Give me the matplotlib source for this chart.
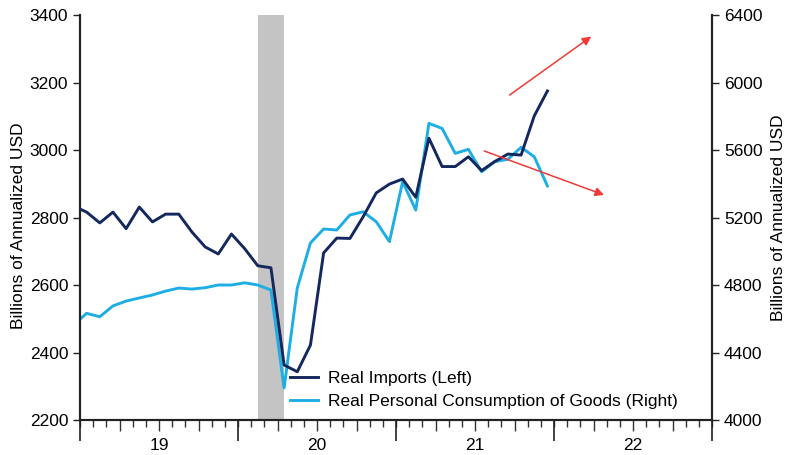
import numpy as np
import pandas as pd
import matplotlib
matplotlib.use("Agg")
import matplotlib.pyplot as plt

plt.rcParams['font.family'] = ['Liberation Sans', 'DejaVu Sans']
plt.rcParams['font.size'] = 12.5

# monthly data, Dec 2018 .. Dec 2021
months = pd.period_range('2018-12', '2021-12', freq='M')
imports = [2834, 2816, 2784, 2816, 2767, 2831, 2787, 2810, 2810, 2757, 2713, 2692, 2751,
           2708, 2657, 2651, 2363, 2343, 2422, 2695, 2739, 2738, 2802, 2873, 2899,
           2914, 2860, 3035, 2951, 2951, 2980, 2939, 2966, 2988, 2985, 3101, 3175]
consumption = [4563, 4632, 4612, 4676, 4705, 4723, 4741, 4764, 4782, 4776, 4784, 4800, 4800,
               4813, 4800, 4770, 4190, 4782, 5049, 5132, 5126, 5215, 5234, 5175, 5057,
               5412, 5244, 5758, 5728, 5580, 5604, 5471, 5531, 5545, 5616, 5560, 5387]
recession = ['2020-02', '2020-04']
year_labels = ['19', '20', '21', '22']

# red arrows (month index, left-axis value)
arrow_up = [(32.45, 3158), (39.0, 3341)]
arrow_down = [(30.5, 3000), (40.0, 2864)]

navy = '#14285e'
cyan = '#1eaee4'

def month_pos(p):
    p = pd.Period(p, freq='M')
    return (p.year - 2019) * 12 + p.month - 1 + 0.5

x = np.array([month_pos(m) for m in months])

rect = [0.1017, 0.0769, 0.803, 0.8901]
fig = plt.figure(figsize=(7.87, 4.55), dpi=100)

# helper axes just for the month / quarter ticks under the x axis
axt = fig.add_axes(rect, frameon=False)
axt.set_xlim(0, 48)
axt.set_yticks([])
axt.set_xticks([q for q in range(0, 49, 3) if q % 12 != 0])
axt.set_xticklabels([])
axt.set_xticks(np.arange(0, 49, 1), minor=True)
axt.tick_params(axis='x', which='major', length=8, width=1, color='#333333')
axt.tick_params(axis='x', which='minor', length=5, width=1, color='#333333')

ax = fig.add_axes(rect)
ax2 = ax.twinx()

ax2.axvspan(month_pos(recession[0]), month_pos(recession[1]), color='#c4c4c4', lw=0, zorder=0)

l2, = ax2.plot(x, consumption, color=cyan, lw=2.1, label='Real Personal Consumption of Goods (Right)')
l1, = ax.plot(x, imports, color=navy, lw=2.1, label='Real Imports (Left)', zorder=5)
ax.set_zorder(ax2.get_zorder() + 1)
ax.patch.set_visible(False)

ax.set_xlim(0, 48)
ax.set_ylim(2200, 3400)
ax.set_yticks(np.arange(2200, 3401, 200))
ax2.set_ylim(4000, 6400)
ax2.set_yticks(np.arange(4000, 6401, 400))

# years: long ticks at boundaries, labels mid-year
ax.set_xticks(np.arange(0, 49, 12))
ax.set_xticklabels([])
ax.set_xticks(np.arange(6, 48, 12), minor=True)
ax.set_xticklabels(year_labels, minor=True)
ax.tick_params(axis='x', which='major', length=15, width=1.2, color='#222222')
ax.tick_params(axis='x', which='minor', length=0, pad=13)

ax.tick_params(axis='y', length=5, width=1, color='#222222')
ax2.tick_params(axis='y', length=5, width=1, color='#222222')

for a in (ax, ax2):
    a.spines['top'].set_visible(False)
    for s in ('left', 'right', 'bottom'):
        a.spines[s].set_linewidth(1.5)
        a.spines[s].set_color('#222222')

ax.set_ylabel('Billions of Annualized USD', labelpad=3)
ax.yaxis.set_label_coords(-0.085, 0.48)
ax2.set_ylabel('Billions of Annualized USD', labelpad=6)

for (x0, y0), (x1, y1) in (arrow_up, arrow_down):
    ax.annotate('', xy=(x1, y1), xytext=(x0, y0),
                arrowprops=dict(arrowstyle='-|>', color='#f03a3a', lw=1.1, mutation_scale=13),
                zorder=6)

ax.legend(handles=[l1, l2], loc='lower left', bbox_to_anchor=(0.322, 0.01),
          frameon=False, handlelength=1.6, handletextpad=0.55, labelspacing=0.45,
          borderaxespad=0)

fig.savefig('out.png', dpi=100)
